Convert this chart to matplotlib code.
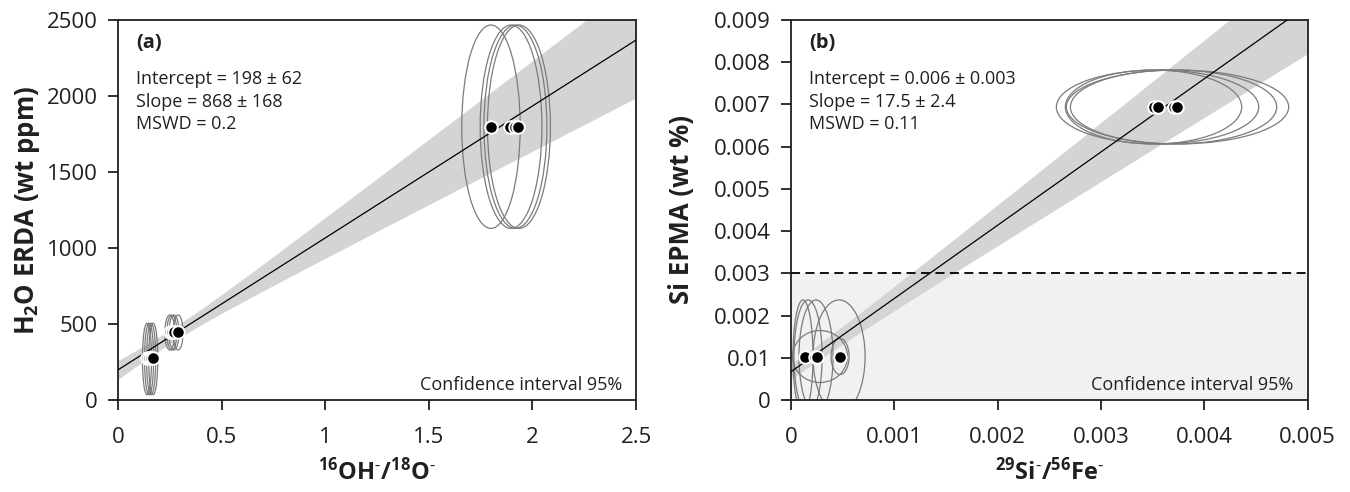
import numpy as np
import matplotlib
matplotlib.use('Agg')
import matplotlib.pyplot as plt
from matplotlib.patches import Ellipse

plt.rcParams['font.family'] = ['Open Sans', 'DejaVu Sans']
plt.rcParams['mathtext.fontset'] = 'custom'
plt.rcParams['mathtext.rm'] = 'Open Sans'
plt.rcParams['mathtext.bf'] = 'Open Sans:bold'
plt.rcParams['mathtext.it'] = 'Open Sans:italic'

# ---------------- Panel (a) data ----------------
a_x = [0.14, 0.15, 0.16, 0.17, 0.25, 0.26, 0.27, 0.29, 1.80, 1.89, 1.915, 1.93]
a_y = [276, 276, 276, 276, 447, 447, 447, 447, 1798, 1798, 1798, 1798]
a_ell_x = [0.14, 0.15, 0.16, 0.17, 0.25, 0.26, 0.27, 0.29, 1.80, 1.897, 1.918, 1.935]
a_ell_y = [270, 270, 270, 270, 444, 444, 444, 444, 1798, 1798, 1798, 1798]
a_ell_hw = [0.022, 0.022, 0.022, 0.022, 0.024, 0.024, 0.024, 0.024, 0.141, 0.149, 0.152, 0.152]
a_ell_hh = [235, 235, 235, 235, 115, 115, 115, 115, 669, 669, 669, 669]
a_intercept, a_slope = 198, 868
a_int_ci, a_slope_ci, a_cov = 62, 168, -7056
a_xticks = [0, 0.5, 1, 1.5, 2, 2.5]
a_xticklabels = ['0', '0.5', '1', '1.5', '2', '2.5']
a_yticks = [0, 500, 1000, 1500, 2000, 2500]
a_yticklabels = ['0', '500', '1000', '1500', '2000', '2500']
a_text = ['Intercept = 198 ± 62', 'Slope = 868 ± 168', 'MSWD = 0.2']

# ---------------- Panel (b) data ----------------
b_x = [0.000136, 0.000233, 0.000252, 0.000475, 0.003508, 0.003547, 0.003702, 0.00374]
b_y = [0.00103, 0.00103, 0.00103, 0.00103, 0.00694, 0.00694, 0.00694, 0.00694]
b_ell_x = [0.000116, 0.000165, 0.000242, 0.000281, 0.000465, 0.000475,
           0.003508, 0.003547, 0.003702, 0.00374]
b_ell_y = [0.00103] * 6 + [0.00694] * 4
b_ell_hw = [0.000097, 0.000136, 0.000165, 0.000266, 0.000252, 0.000087,
            0.000853, 0.000979, 0.000998, 0.001076]
b_ell_hh = [0.00134, 0.00134, 0.00134, 0.000616, 0.00134, 0.000426,
            0.000876, 0.000876, 0.000876, 0.000876]
b_intercept, b_slope = 0.00067, 1.735
b_int_ci, b_slope_ci, b_cov = 0.00018, 0.225, 0.0
b_limit = 0.003
b_xticks = [0, 0.001, 0.002, 0.003, 0.004, 0.005]
b_xticklabels = ['0', '0.001', '0.002', '0.003', '0.004', '0.005']
b_yticks = [0, 0.001, 0.002, 0.003, 0.004, 0.005, 0.006, 0.007, 0.008, 0.009]
b_yticklabels = ['0', '0.01', '0.002', '0.003', '0.004', '0.005', '0.006', '0.007', '0.008', '0.009']
b_text = ['Intercept = 0.006 ± 0.003', 'Slope = 17.5 ± 2.4', 'MSWD = 0.11']

BAND = '#d3d4d6'
ELL = '#7b7b7b'
SPINE = '#231f20'

fig = plt.figure(figsize=(13.5, 4.92), dpi=100)
axA = fig.add_axes([118 / 1350, 92 / 492, 518 / 1350, 380 / 492])
axB = fig.add_axes([791 / 1350, 92 / 492, 516.7 / 1350, 380 / 492])


def draw_panel(ax, xs, ys, ex, ey, ehw, ehh, icpt, slope, ici, sci, cov,
               xlim, ylim, xticks, xtl, yticks, ytl, texts, tag):
    xx = np.linspace(xlim[0], xlim[1], 400)
    line = icpt + slope * xx
    hw = np.sqrt(ici ** 2 + 2 * xx * cov + (xx * sci) ** 2)
    ax.fill_between(xx, line - hw, line + hw, color=BAND, lw=0, zorder=1)
    for cx, cy, w, h in zip(ex, ey, ehw, ehh):
        ax.add_patch(Ellipse((cx, cy), 2 * w, 2 * h, fill=False,
                             edgecolor=ELL, lw=0.9, zorder=2))
    ax.plot(xx, line, color='black', lw=0.9, zorder=3)
    ax.plot(xs, ys, 'o', ms=9, mfc='black', mec='white', mew=1.4, zorder=4,
            linestyle='none')
    ax.set_xlim(*xlim)
    ax.set_ylim(*ylim)
    ax.set_xticks(xticks)
    ax.set_xticklabels(xtl)
    ax.set_yticks(yticks)
    ax.set_yticklabels(ytl)
    ax.tick_params(axis='both', direction='out', length=7.5, width=1.3,
                   colors=SPINE, labelsize=16, labelcolor='#231f20')
    ax.tick_params(axis='x', pad=12)
    ax.tick_params(axis='y', pad=7)
    for s in ax.spines.values():
        s.set_color(SPINE)
        s.set_linewidth(1.3)
    ax.text(0.035, 0.94, tag, transform=ax.transAxes, fontsize=14.5,
            fontweight='bold', va='center', ha='left', color='#231f20')
    for i, t in enumerate(texts):
        ax.text(0.035, 0.832 - i * 0.06, t, transform=ax.transAxes,
                fontsize=13, va='baseline', ha='left', color='#231f20', zorder=5)
    ax.text(0.973, 0.026, 'Confidence interval 95%', transform=ax.transAxes,
            fontsize=13, va='baseline', ha='right', color='#231f20', zorder=5)


# panel b background region below detection limit
axB.axhspan(0, b_limit, color='#f0f1f3', lw=0, zorder=0)
axB.axhline(b_limit, color='black', lw=1.3, ls=(0, (5, 3)), zorder=3)

draw_panel(axA, a_x, a_y, a_ell_x, a_ell_y, a_ell_hw, a_ell_hh,
           a_intercept, a_slope, a_int_ci, a_slope_ci, a_cov,
           (0, 2.5), (0, 2500), a_xticks, a_xticklabels, a_yticks, a_yticklabels,
           a_text, '(a)')
draw_panel(axB, b_x, b_y, b_ell_x, b_ell_y, b_ell_hw, b_ell_hh,
           b_intercept, b_slope, b_int_ci, b_slope_ci, b_cov,
           (0, 0.005), (0, 0.009), b_xticks, b_xticklabels, b_yticks, b_yticklabels,
           b_text, '(b)')

axA.set_ylabel('H$_\\mathbf{2}$O ERDA (wt ppm)', fontsize=18.5, fontweight='bold', color='#231f20')
axA.set_xlabel('$^{\\mathbf{16}}$OH$^{\\text{-}}$/$^{\\mathbf{18}}$O$^{\\text{-}}$',
               fontsize=17, fontweight='bold', color='#231f20')
axB.set_ylabel('Si EPMA (wt %)', fontsize=18.5, fontweight='bold', color='#231f20')
axB.set_xlabel('$^{\\mathbf{29}}$Si$^{\\text{-}}$/$^{\\mathbf{56}}$Fe$^{\\text{-}}$',
               fontsize=17, fontweight='bold', color='#231f20')
axA.yaxis.set_label_coords(-0.147, 0.5)
axB.yaxis.set_label_coords(-0.186, 0.5)
axA.xaxis.set_label_coords(0.5, -0.155)
axB.xaxis.set_label_coords(0.5, -0.155)

fig.savefig('out.png', dpi=100)
